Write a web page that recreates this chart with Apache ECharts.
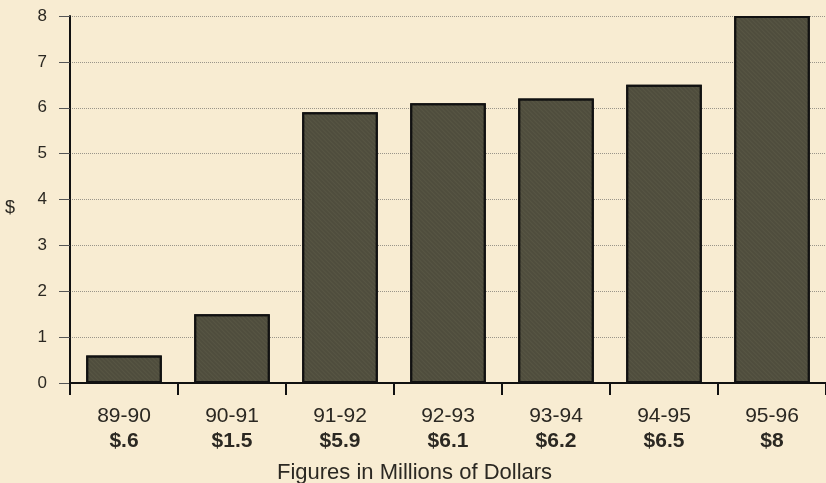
<!DOCTYPE html>
<html><head><meta charset="utf-8">
<script src="https://cdn.jsdelivr.net/npm/echarts@6/dist/echarts.min.js"></script>
<style>html,body{margin:0;padding:0;background:#f8ecd2;}#c{width:826px;height:483px;}</style>
</head><body><div id="c"></div>
<script>
const categories = ["89-90","90-91","91-92","92-93","93-94","94-95","95-96"];
const amountLabels = ["$.6","$1.5","$5.9","$6.1","$6.2","$6.5","$8"];
const values = [0.6,1.5,5.9,6.1,6.2,6.5,8];
const yTicks = [0,1,2,3,4,5,6,7,8];

const chart = echarts.init(document.getElementById('c'));
const font = '"Liberation Sans", Arial, sans-serif';
const txt = '#2b2822';
chart.setOption({
  backgroundColor: '#f8ecd2',
  animation: false,
  title: {
    text: 'Figures in Millions of Dollars',
    left: 272, top: 457,
    textStyle: {fontFamily: font, fontSize: 22, fontWeight: 'normal', color: txt}
  },
  grid: {left: 70, right: -10, top: 16, bottom: 100, containLabel: false},
  xAxis: {
    type: 'category',
    data: categories,
    boundaryGap: true,
    axisLine: {lineStyle: {color: '#111', width: 2}},
    axisTick: {show: true, alignWithLabel: false, length: 12, lineStyle: {color: '#111', width: 2}},
    axisLabel: {
      margin: 21,
      formatter: function (v, i) { return '{a|' + v + '}\n{b|' + amountLabels[i] + '}'; },
      rich: {
        a: {fontFamily: font, fontSize: 21, color: txt, lineHeight: 25},
        b: {fontFamily: font, fontSize: 21, fontWeight: 'bold', color: txt, lineHeight: 25}
      }
    }
  },
  yAxis: {
    type: 'value',
    min: yTicks[0], max: yTicks[yTicks.length - 1], interval: 1,
    name: '$', nameLocation: 'middle', nameGap: 55, nameRotate: 0,
    nameTextStyle: {fontFamily: font, fontSize: 18, color: txt, verticalAlign: 'top'},
    axisLine: {show: true, lineStyle: {color: '#111', width: 2}},
    axisTick: {show: true, length: 11, lineStyle: {color: '#555', width: 1}},
    axisLabel: {margin: 23, fontFamily: font, fontSize: 17, color: txt},
    splitLine: {show: true, lineStyle: {color: '#9a958a', type: 'dotted', width: 1}}
  },
  series: [{
    type: 'bar',
    data: values,
    barCategoryGap: '30%',
    itemStyle: {
      color: '#4f4d3d', borderColor: '#111', borderWidth: 2,
      decal: {symbol: 'circle', symbolSize: 0.6, color: 'rgba(190,185,150,0.35)', dashArrayX: [1, 0], dashArrayY: [3, 0], rotation: 0.785}
    }
  }]
});
</script></body></html>
